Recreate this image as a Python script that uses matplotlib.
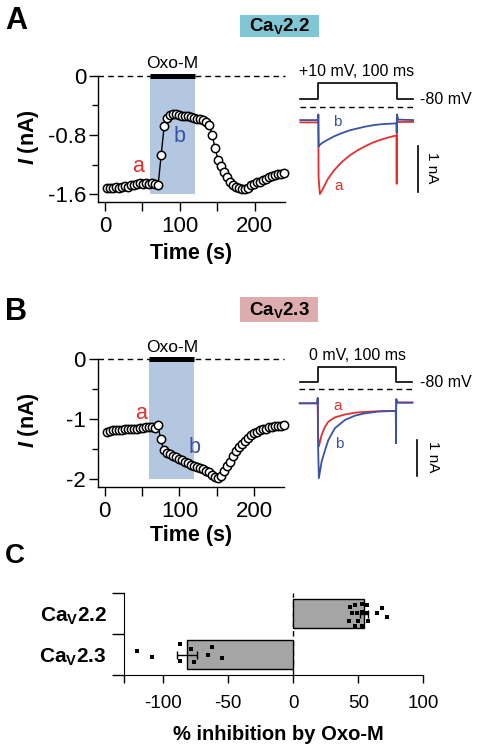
import matplotlib
matplotlib.use('Agg')
import matplotlib.pyplot as plt
from matplotlib.patches import Rectangle
from matplotlib.ticker import FixedLocator

plt.rcParams['font.family'] = ['Liberation Sans', 'DejaVu Sans']
plt.rcParams['mathtext.fontset'] = 'custom'
plt.rcParams['mathtext.rm'] = 'Liberation Sans'
plt.rcParams['mathtext.it'] = 'Liberation Sans:italic'
plt.rcParams['mathtext.bf'] = 'Liberation Sans:bold'
plt.rcParams['mathtext.bfit'] = 'Liberation Sans:italic:bold'

# ---- data ----
# time course, one sweep every 4 s
time_s = [3, 7, 11, 15, 19, 23, 27, 31, 35, 39, 43, 47, 51, 55, 59, 63, 67, 71,
          75, 79, 83, 87, 91, 95, 99, 103, 107, 111, 115, 119, 123, 127, 131, 135,
          139, 143, 147, 151, 155, 159, 163, 167, 171, 175, 179, 183, 187, 191, 195,
          199, 203, 207, 211, 215, 219, 223, 227, 231, 235, 239]
cav22_nA = [-1.51, -1.52, -1.51, -1.50, -1.51, -1.50, -1.49, -1.50, -1.48, -1.47,
            -1.46, -1.45, -1.46, -1.45, -1.46, -1.45, -1.46, -1.47,
            -1.07, -0.68, -0.57, -0.53, -0.52, -0.52, -0.53, -0.54, -0.55, -0.55,
            -0.56, -0.57, -0.58, -0.59, -0.60, -0.62, -0.66, -0.80, -0.98, -1.14,
            -1.22, -1.30, -1.37, -1.43, -1.47, -1.50, -1.52, -1.53, -1.53, -1.51,
            -1.48, -1.46, -1.44, -1.43, -1.41, -1.39, -1.37, -1.36, -1.34, -1.33,
            -1.32, -1.31]
cav23_nA = [-1.21, -1.20, -1.19, -1.19, -1.18, -1.18, -1.17, -1.17, -1.17, -1.16,
            -1.16, -1.15, -1.15, -1.14, -1.14, -1.14, -1.15, -1.10,
            -1.33, -1.52, -1.56, -1.58, -1.61, -1.64, -1.66, -1.69, -1.71, -1.74,
            -1.76, -1.79, -1.80, -1.82, -1.83, -1.86, -1.89, -1.93, -1.97, -1.99,
            -1.95, -1.87, -1.79, -1.71, -1.62, -1.54, -1.47, -1.41, -1.36, -1.31,
            -1.27, -1.24, -1.21, -1.19, -1.17, -1.16, -1.14, -1.13, -1.12, -1.11,
            -1.11, -1.10]
oxo_on, oxo_off = 60, 120

# example current traces (ms, nA)
trA_a_t = [-23, -0.3, 0.0, 0.3, 2, 6, 12, 20, 30, 40, 50, 60, 70, 80, 90, 99.7, 100.0, 100.3, 102, 121]
trA_a_i = [-0.03, -0.03, 0.12, -1.2, -1.57, -1.45, -1.25, -1.06, -0.88, -0.74, -0.63,
           -0.54, -0.46, -0.40, -0.35, -0.31, -1.35, 0.02, -0.02, -0.02]
trA_b_t = [-23, -0.3, 0.0, 0.5, 1.5, 5, 10, 20, 30, 40, 50, 60, 70, 80, 90, 99.7, 100.0, 100.3, 102, 121]
trA_b_i = [0.02, 0.02, 0.14, -0.55, -0.52, -0.47, -0.42, -0.33, -0.26, -0.20, -0.16,
           -0.12, -0.09, -0.07, -0.06, -0.05, -0.25, 0.14, 0.03, 0.02]
trB_t = [-23, -0.3, 0.0, 0.5, 1.5, 5, 9.4, 13.6, 22, 35, 48, 60, 77, 99.7, 100, 100.3, 102, 121]
trB_a_i = [0.0, 0.0, 0.12, -0.9, -1.2, -0.88, -0.65, -0.51, -0.39, -0.31, -0.26, -0.24,
           -0.22, -0.21, -0.35, 0.10, 0.02, 0.02]
trB_b_i = [0.0, 0.0, 0.15, -1.2, -2.08, -1.62, -1.30, -1.02, -0.69, -0.46, -0.34, -0.28,
           -0.23, -0.21, -1.11, 0.12, 0.02, 0.02]
step_t = [-23, 0, 0, 100, 100, 121]
stepA_mV = [-80, -80, 10, 10, -80, -80]
stepB_mV = [-80, -80, 0, 0, -80, -80]

# % inhibition
groups = [r'Ca$_\mathbf{V}$2.2', r'Ca$_\mathbf{V}$2.3']
inhib_mean = [54.4, -82.0]
inhib_sem = [2.8, 7.7]
pts22 = [43.6, 47.4, 52.6, 56.4, 44.9, 48.7, 52.6, 56.4, 64.1, 68.0, 71.8, 43.1, 50.0, 57.7, 47.4, 52.6]
jit22 = [0.17, 0.22, 0.23, 0.21, 0.01, 0.01, 0.04, 0.01, 0.01, 0.13, -0.07, -0.17, -0.17, -0.17, -0.30, -0.30]
pts23 = [-120.5, -109.0, -87.2, -78.9, -62.8, -65.4, -55.1, -87.2, -76.4]
jit23 = [0.10, -0.05, 0.26, 0.14, 0.18, -0.01, -0.09, -0.16, -0.18]

RED = '#e3302f'
BLUE = '#3a52a4'
SHADE = '#b4c7e1'

W, H = 479, 751
fig = plt.figure(figsize=(W / 100, H / 100), dpi=100)


def px_axes(xlim, ylim, x0, sx, y0, sy):
    # x0/y0: pixel position of data 0, sx/sy: pixels per data unit
    left = x0 + xlim[0] * sx
    right = x0 + xlim[1] * sx
    top = y0 - ylim[1] * sy
    bottom = y0 - ylim[0] * sy
    ax = fig.add_axes([left / W, 1 - bottom / H, (right - left) / W, (bottom - top) / H])
    ax.set_xlim(xlim)
    ax.set_ylim(ylim)
    return ax


def ftext(x, y, s, **kw):
    kw.setdefault('ha', 'center')
    kw.setdefault('va', 'center')
    return fig.text(x / W, 1 - y / H, s, **kw)


def time_course(ax, cur, shade_bottom, yticks, yminor, ylabels):
    ax.fill_between([oxo_on, oxo_off], shade_bottom, 0, color=SHADE, lw=0, zorder=0)
    ax.axhline(0, color='k', lw=1, ls=(0, (4, 3)), clip_on=False, zorder=1)
    ax.plot([oxo_on, oxo_off], [0, 0], color='k', lw=3.6, solid_capstyle='butt', clip_on=False, zorder=2)
    ax.annotate('Oxo-M', xy=((oxo_on + oxo_off) / 2, 0), xytext=(0, 5.5), textcoords='offset points',
                ha='center', va='baseline', fontsize=12.5)
    ax.plot(time_s, cur, '-o', color='k', lw=1, ms=6, mfc='white', mec='k', mew=1.1,
            clip_on=False, zorder=3)
    for s in ['top', 'right']:
        ax.spines[s].set_visible(False)
    for s in ['left', 'bottom']:
        ax.spines[s].set_linewidth(1.0)
    ax.set_yticks(yticks)
    ax.set_yticklabels(ylabels)
    ax.yaxis.set_minor_locator(FixedLocator(yminor))
    ax.set_xticks([0, 100, 200])
    ax.xaxis.set_minor_locator(FixedLocator([50, 150]))
    ax.tick_params(which='both', direction='out', width=1.0, labelsize=16)
    ax.tick_params(axis='y', which='major', length=6.5, pad=2)
    ax.tick_params(axis='y', which='minor', length=4.5)
    ax.tick_params(axis='x', which='both', length=6.5, pad=4)


def traces(ax, t_a, i_a, t_b, i_b, dash_y, bar_x, bar_y):
    ax.plot([-23.3, 120.8], [dash_y, dash_y], color='k', lw=1, ls=(0, (4, 3)))
    ax.plot(t_a, i_a, color=RED, lw=1.3)
    ax.plot(t_b, i_b, color=BLUE, lw=1.3)
    ax.plot([bar_x, bar_x], bar_y, color='k', lw=1.2)
    ax.axis('off')


# ---------- panel A ----------
axA = px_axes((-9, 240), (-1.70, 0), 105, 0.749, 75.7, 74.1)
time_course(axA, cav22_nA, -1.6, [0, -0.8, -1.6], [-0.4, -1.2], ['0', '-0.8', '-1.6'])
ftext(138.3, 166.7, 'a', color=RED, fontsize=15.5)
ftext(180, 136, 'b', color=BLUE, fontsize=15.5)

vA = px_axes((-25, 150), (-100, 30), 318.3, 0.784, 85.05, 0.1744)
vA.plot(step_t, stepA_mV, color='k', lw=1.2)
vA.axis('off')
trA = px_axes((-25, 150), (-1.75, 0.35), 318.3, 0.784, 121, 46.6)
traces(trA, trA_a_t, trA_a_i, trA_b_t, trA_b_i, 0.294, 126.8, [-0.53, -1.53])
ftext(357, 71.7, '+10 mV, 100 ms', fontsize=11.5)
ftext(420, 99, '-80 mV', ha='left', fontsize=11.5)
ftext(432.5, 168, '1 nA', rotation=270, fontsize=11)
ftext(337.5, 122, 'b', color=BLUE, fontsize=11)
ftext(338.3, 186, 'a', color=RED, fontsize=11)

# ---------- panel B ----------
axB = px_axes((-9, 240), (-2.13, 0), 104.5, 0.749, 359.3, 59.8)
time_course(axB, cav23_nA, -2.0, [0, -1, -2], [-0.5, -1.5], ['0', '-1', '-2'])
ftext(140.8, 413.3, 'a', color=RED, fontsize=15.5)
ftext(194.3, 447.5, 'b', color=BLUE, fontsize=15.5)

vB = px_axes((-25, 150), (-100, 30), 317.7, 0.783, 366.7, 0.1875)
vB.plot(step_t, stepB_mV, color='k', lw=1.2)
vB.axis('off')
trB = px_axes((-25, 150), (-2.3, 0.5), 317.7, 0.783, 403.3, 36)
traces(trB, trB_t, trB_a_i, trB_t, trB_b_i, 0.39, 127, [-1.02, -2.02])
ftext(357.5, 356, '0 mV, 100 ms', fontsize=11.5)
ftext(420, 382.7, '-80 mV', ha='left', fontsize=11.5)
ftext(433, 456.7, '1 nA', rotation=270, fontsize=11)
ftext(337.5, 406, 'a', color=RED, fontsize=11)
ftext(339, 444, 'b', color=BLUE, fontsize=11)

# axis labels for the time courses
for yc, yl in [(137, 253), (420, 536)]:
    ftext(28.5, yc, r'$\mathbfit{I}$ (nA)', rotation=90, fontsize=15.5, fontweight='bold')
    ftext(191, yl, 'Time (s)', fontsize=15.5, fontweight='bold')

# ---------- panel C ----------
axC = px_axes((-130, 100), (0, 2), 293.3, 1.3, 675, 40.8)
ypos = [1.5, 0.5]
axC.barh(ypos, inhib_mean, height=0.72, color='#a5a5a5', edgecolor='k', lw=1, zorder=2)
axC.errorbar(inhib_mean, ypos, xerr=inhib_sem, fmt='none', ecolor='k', elinewidth=1,
             capsize=3, capthick=1, zorder=3)
axC.scatter(pts22, [ypos[0] + j for j in jit22], marker='s', s=10, color='k', lw=0, zorder=4)
axC.scatter(pts23, [ypos[1] + j for j in jit23], marker='s', s=10, color='k', lw=0, zorder=4)
axC.axvline(0, color='k', lw=1, ls=(0, (4, 3)), zorder=1)
for s in ['top', 'right']:
    axC.spines[s].set_visible(False)
axC.set_xticks([-130, -100, -50, 0, 50, 100])
axC.set_xticklabels(['', '-100', '-50', '0', '50', '100'], fontsize=13.5)
axC.set_yticks([0, 1, 2])
axC.set_yticklabels([])
axC.set_yticks(ypos, minor=True)
axC.set_yticklabels(groups, minor=True, fontsize=15, fontweight='bold')
axC.tick_params(axis='y', which='major', length=9, width=1)
axC.tick_params(axis='y', which='minor', length=0, pad=12.5)
axC.tick_params(axis='x', length=6, width=1, pad=8.5)
ftext(278, 735, '% inhibition by Oxo-M', fontsize=14.5, fontweight='bold')

# ---------- panel letters and channel tags ----------
ftext(16, 21, 'A', fontsize=22, fontweight='bold')
ftext(16, 312, 'B', fontsize=22, fontweight='bold')
ftext(15, 556, 'C', fontsize=20, fontweight='bold')
fig.add_artist(Rectangle((240 / W, 1 - 37 / H), 79 / W, 22 / H, transform=fig.transFigure,
                         facecolor='#80c6d4', edgecolor='none'))
fig.add_artist(Rectangle((240 / W, 1 - 322 / H), 78 / W, 25 / H, transform=fig.transFigure,
                         facecolor='#dcadac', edgecolor='none'))
ftext(279.5, 26.5, r'Ca$_\mathbf{V}$2.2', fontsize=13.5, fontweight='bold')
ftext(279, 310, r'Ca$_\mathbf{V}$2.3', fontsize=13.5, fontweight='bold')

fig.savefig('out.png', dpi=100, facecolor='white')
